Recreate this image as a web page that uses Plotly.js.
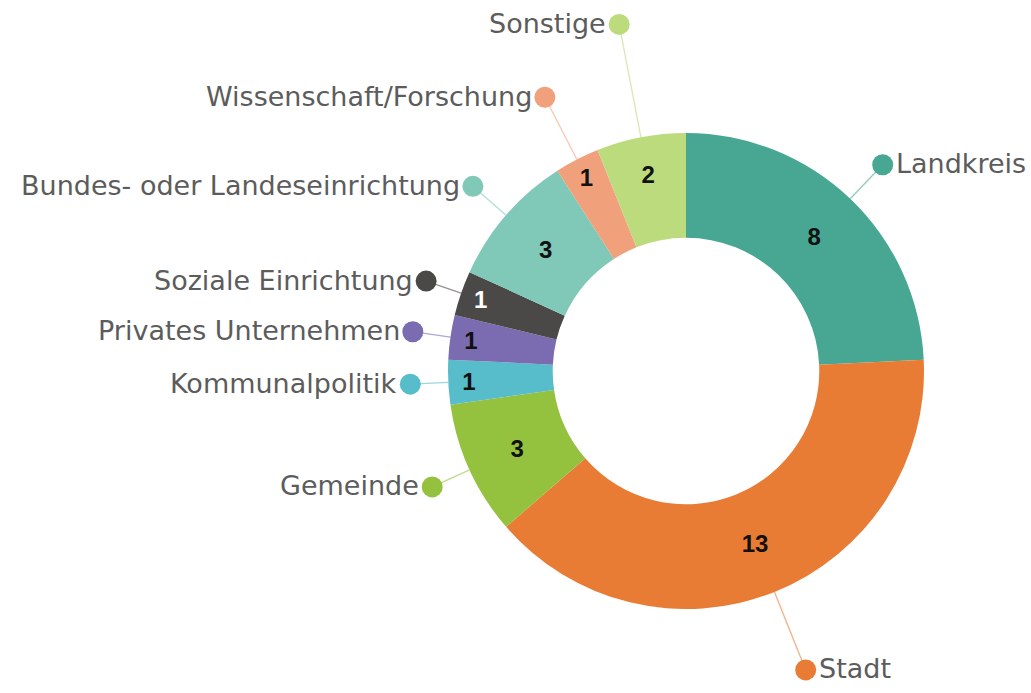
<!DOCTYPE html>
<html>
<head>
<meta charset="utf-8">
<script src="https://cdn.plot.ly/plotly-3.0.1.min.js"></script>
<style>html,body{margin:0;padding:0;background:#fff;}#chart{width:1031px;height:693px;}</style>
</head>
<body>
<div id="chart"></div>
<script>
// ---- data ----
const categories = ["Landkreis", "Stadt", "Gemeinde", "Kommunalpolitik", "Privates Unternehmen",
  "Soziale Einrichtung", "Bundes- oder Landeseinrichtung", "Wissenschaft/Forschung", "Sonstige"];
const values = [8, 13, 3, 1, 1, 1, 3, 1, 2];
const colors = ["#47a793", "#e97c35", "#94c23f", "#57bdca", "#7b6cb1", "#4b4947", "#80c8b7", "#f0a17c", "#bbdb7d"];
const textColors = ["#111", "#111", "#111", "#111", "#111", "#fff", "#111", "#111", "#111"];

// ---- layout settings (not data) ----
const W = 1031, H = 693;
const cx = 686, cy = 371, R = 238;
const labelRadius = [285, 322, 279, 276, 276, 275, 282, 308, 353];

const total = values.reduce((a, b) => a + b, 0);
let cum = 0;
const lineTraces = [];
const dotX = [], dotY = [];
const annotations = [];
values.forEach((v, i) => {
  const mid = (cum + v / 2) / total * 2 * Math.PI;
  cum += v;
  const sx = cx + R * Math.sin(mid), sy = cy - R * Math.cos(mid);
  const r2 = labelRadius[i];
  const ex = cx + r2 * Math.sin(mid), ey = cy - r2 * Math.cos(mid);
  lineTraces.push({
    type: "scatter", mode: "lines", x: [sx, ex], y: [sy, ey],
    line: {color: colors[i], width: 1.3}, opacity: 0.6, hoverinfo: "skip", showlegend: false
  });
  dotX.push(ex); dotY.push(ey);
  const right = Math.sin(mid) > 0;
  annotations.push({
    x: ex, y: ey, xref: "x", yref: "y", text: categories[i], showarrow: false,
    xanchor: right ? "left" : "right", yanchor: "middle",
    xshift: right ? 11 : -11, yshift: 1,
    font: {family: "'DejaVu Sans', 'Noto Sans', Arial, sans-serif", size: 27, color: "#5c5c5c"}
  });
});

const pie = {
  type: "pie", labels: categories, values: values, sort: false, direction: "clockwise", rotation: 0,
  hole: 0.56, marker: {colors: colors, line: {width: 0}},
  textinfo: "value", textposition: "inside", insidetextorientation: "horizontal",
  textfont: {family: "Arial, 'Liberation Sans', sans-serif", size: 24, weight: "bold", color: textColors},
  domain: {x: [(cx - R) / W, (cx + R) / W], y: [1 - (cy + R) / H, 1 - (cy - R) / H]},
  showlegend: false, hoverinfo: "label+value"
};

const dots = {
  type: "scatter", mode: "markers", x: dotX, y: dotY,
  marker: {size: 21, color: colors}, hoverinfo: "skip", showlegend: false
};

const layout = {
  width: W, height: H, margin: {l: 0, r: 0, t: 0, b: 0},
  paper_bgcolor: "#fff", plot_bgcolor: "rgba(0,0,0,0)",
  xaxis: {range: [0, W], visible: false, fixedrange: true},
  yaxis: {range: [H, 0], visible: false, fixedrange: true},
  annotations: annotations, showlegend: false
};

Plotly.newPlot("chart", [pie].concat(lineTraces, [dots]), layout, {staticPlot: true});
</script>
</body>
</html>
